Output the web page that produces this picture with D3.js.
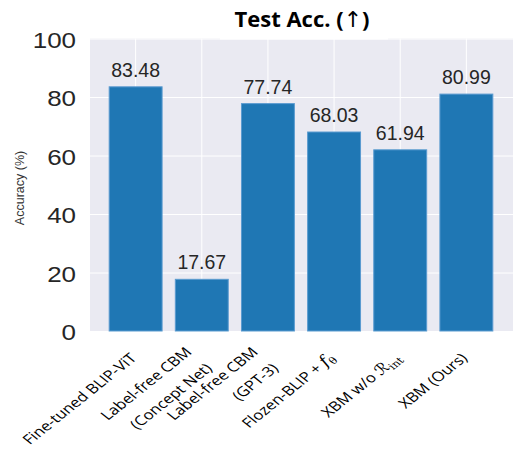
<!DOCTYPE html>
<html>
<head>
<meta charset="utf-8">
<script src="https://cdn.jsdelivr.net/npm/d3@7"></script>
<style>
  body { margin: 0; background: #fff; }
</style>
</head>
<body>
<svg id="chart" width="513" height="451"></svg>
<script>
// data
var methods = ['finetuned', 'lf_conceptnet', 'lf_gpt3', 'frozen_blip', 'xbm_no_int', 'xbm'];
var accuracy = [83.48, 17.67, 77.74, 68.03, 61.94, 80.99];
var yTicks = [0, 20, 40, 60, 80, 100];
// tick labels: lines made of [text, kind] pieces
var tickLabels = [
    [[['Fine-tuned  BLIP-ViT', '']]],
    [[['Label-free CBM', '']], [['(Concept Net)', '']]],
    [[['Label-free CBM', '']], [['(GPT-3)', '']]],
    [[['Flozen-BLIP + ', ''], ['f', 'i'], ['\u03b8', 'sub']]],
    [[['XBM w/o ', ''], ['\u211b', 'script'], ['int', 'sub']]],
    [[['XBM (Ours)', '']]]
];
var titleParts = ['Test Acc. (', '\u2191', ')'];
var yTitle = 'Accuracy (%)';

var svg = d3.select('#chart');
var plotL = 90, plotR = 512, plotT = 38.5, plotB = 331;

var x = d3.scaleBand().domain(methods).range([plotL, plotR]).paddingInner(0.2).paddingOuter(0.29);
var y = d3.scaleLinear().domain([0, 100]).range([plotB, plotT]);

// plot background
svg.append('rect')
    .attr('x', plotL).attr('y', plotT)
    .attr('width', plotR - plotL + 2).attr('height', plotB - plotT)
    .style('fill', '#eaeaf2');

// horizontal grid + tick labels
var yAxis = svg.append('g')
    .attr('transform', 'translate(' + plotL + ',0)')
    .call(d3.axisLeft(y).tickValues(yTicks).tickSize(-(plotR - plotL + 2)).tickFormat(d3.format('d')));
yAxis.select('.domain').remove();
yAxis.selectAll('line').style('stroke', '#ffffff').style('stroke-width', 1);
yAxis.selectAll('text')
    .attr('x', null).attr('dy', '0.36em')
    .attr('transform', 'translate(-14,1) scale(1.18,1)')
    .style('text-anchor', 'end')
    .style('font-family', '"Liberation Sans", Arial, sans-serif')
    .style('font-size', '22px')
    .style('fill', '#262626');

// vertical grid at bar centres
var xAxis = svg.append('g')
    .attr('transform', 'translate(0,' + plotB + ')')
    .call(d3.axisBottom(x).tickSize(-(plotB - plotT)).tickFormat(''));
xAxis.select('.domain').remove();
xAxis.selectAll('line').style('stroke', '#ffffff').style('stroke-width', 1);

// white box behind the title
svg.append('rect')
    .attr('x', 220).attr('y', 0).attr('width', 168).attr('height', 39.5)
    .style('fill', '#ffffff');

var titleText = svg.append('text')
    .attr('x', 302).attr('y', 27)
    .style('text-anchor', 'middle')
    .style('font-family', '"Open Sans", "Noto Sans", sans-serif')
    .style('font-weight', 'bold')
    .style('font-size', '22px')
    .style('fill', '#000');
titleParts.forEach(function(p, i) {
    var s = titleText.append('tspan').text(p);
    if (i == 1) s.style('font-family', '"DejaVu Sans", sans-serif').style('font-weight', 'normal');
});

// bars
svg.selectAll('.bar')
    .data(accuracy)
    .enter().append('rect')
    .attr('class', 'bar')
    .attr('x', function(d, i) { return x(methods[i]); })
    .attr('y', function(d) { return y(d); })
    .attr('width', x.bandwidth())
    .attr('height', function(d) { return y(0) - y(d); })
    .style('fill', '#1f77b4')
    .style('stroke', '#5b9bd0')
    .style('stroke-width', 1);

// value labels
svg.selectAll('.val')
    .data(accuracy)
    .enter().append('text')
    .attr('class', 'val')
    .attr('x', function(d, i) { return x(methods[i]) + x.bandwidth() / 2; })
    .attr('y', function(d) { return y(d) - 10; })
    .style('text-anchor', 'middle')
    .style('font-family', '"Liberation Sans", Arial, sans-serif')
    .style('font-size', '19.5px')
    .style('fill', '#262626')
    .text(d3.format('.2f'));

// y axis title
svg.append('text')
    .attr('transform', 'translate(24,188) rotate(-90)')
    .style('text-anchor', 'middle')
    .style('font-family', '"Liberation Sans", Arial, sans-serif')
    .style('font-size', '12.5px')
    .style('fill', '#333')
    .text(yTitle);

// rotated category labels (the source picture is stretched sideways, so scale x too)
tickLabels.forEach(function(lines, i) {
    var cx = x(methods[i]) + x.bandwidth() / 2;
    var ax = lines.length > 1 ? cx - 9 : cx + 2;
    var ay = lines.length > 1 ? 353 : 359;
    var g = svg.append('g')
        .attr('transform', 'translate(' + ax + ',' + ay + ') scale(1.25,1) rotate(-45)');
    lines.forEach(function(pieces, j) {
        var t = g.append('text')
            .attr('x', 0).attr('y', j * 23)
            .style('text-anchor', 'end')
            .style('font-family', '"Open Sans", "Noto Sans", sans-serif')
            .style('font-size', '13.5px')
            .style('fill', '#000');
        pieces.forEach(function(p) {
            var s = t.append('tspan').text(p[0]);
            if (p[1] == 'i') s.style('font-style', 'italic').style('font-family', '"DejaVu Serif", serif').style('font-size', '15px');
            if (p[1] == 'script') s.style('font-family', '"DejaVu Sans", sans-serif').style('font-size', '14px');
            if (p[1] == 'sub') s.attr('dy', '0.3em').style('font-size', '9.5px').style('font-family', '"DejaVu Serif", serif');
        });
    });
});
</script>
</body>
</html>
